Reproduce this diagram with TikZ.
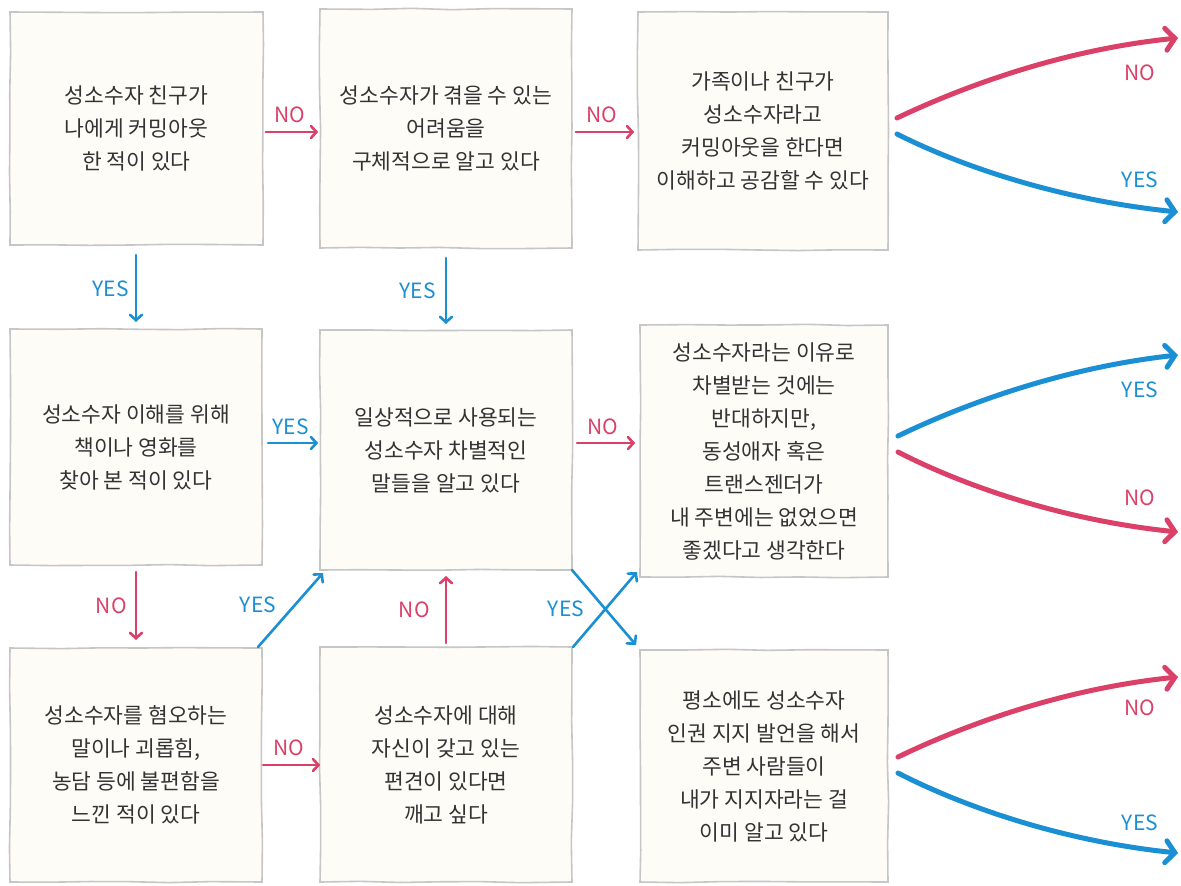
\documentclass[tikz,border=0pt]{standalone}
\usepackage{fontspec}
\setmainfont{Noto Sans CJK KR}
\usetikzlibrary{arrows.meta,decorations.pathmorphing}
\definecolor{nopink}{HTML}{DA4068}
\definecolor{yesblue}{HTML}{1A8FD3}
\definecolor{boxfill}{HTML}{FDFCF6}
\definecolor{boxline}{HTML}{C6C6C6}
\tikzset{
  card/.style={draw=boxline, line width=1.6pt, fill=boxfill, rectangle, align=center,
    inner sep=0pt, text=black!80, font=\fontsize{21.5}{33}\selectfont,
    decorate, decoration={random steps, segment length=40pt, amplitude=0.7pt}},
  noarr/.style={draw=nopink, line width=2.6pt, line cap=round,
    -{Straight Barb[length=5.5pt,width=12pt,line width=2.6pt,line cap=round]}},
  yesarr/.style={draw=yesblue, line width=2.6pt, line cap=round,
    -{Straight Barb[length=5.5pt,width=12pt,line width=2.6pt,line cap=round]}},
  nocurve/.style={draw=nopink, line width=5pt, line cap=round,
    -{Straight Barb[length=9pt,width=22pt,line width=5pt,line cap=round]}},
  yescurve/.style={draw=yesblue, line width=5pt, line cap=round,
    -{Straight Barb[length=9pt,width=22pt,line width=5pt,line cap=round]}},
  nolab/.style={text=nopink, font=\fontsize{21}{22}\selectfont, inner sep=0pt},
  yeslab/.style={text=yesblue, font=\fontsize{21}{22}\selectfont, inner sep=0pt},
}
\pgfmathsetseed{7}
\begin{document}
\begin{tikzpicture}[x=1pt,y=-1pt]
\useasboundingbox (0,0) rectangle (1181,886);
% boxes
\node[card, minimum width=253pt, minimum height=233pt] (A) at (136.5,128.5) {성소수자 친구가\\나에게 커밍아웃\\한 적이 있다};
\node[card, minimum width=252pt, minimum height=239pt] (B) at (446,128.5) {성소수자가 겪을 수 있는\\어려움을\\구체적으로 알고 있다};
\node[card, minimum width=250pt, minimum height=238pt] (C) at (763,131) {가족이나 친구가\\성소수자라고\\커밍아웃을 한다면\\이해하고 공감할 수 있다};
\node[card, minimum width=252pt, minimum height=236pt] (D) at (136,447) {성소수자 이해를 위해\\책이나 영화를\\찾아 본 적이 있다};
\node[card, minimum width=252pt, minimum height=240pt] (E) at (446,450) {일상적으로 사용되는\\성소수자 차별적인\\말들을 알고 있다};
\node[card, minimum width=248pt, minimum height=252pt] (F) at (764,451) {성소수자라는 이유로\\차별받는 것에는\\반대하지만,\\동성애자 혹은\\트랜스젠더가\\내 주변에는 없었으면\\좋겠다고 생각한다};
\node[card, minimum width=252pt, minimum height=234pt] (G) at (136,765) {성소수자를 혐오하는\\말이나 괴롭힘,\\농담 등에 불편함을\\느낀 적이 있다};
\node[card, minimum width=252pt, minimum height=235pt] (H) at (446,764.5) {성소수자에 대해\\자신이 갖고 있는\\편견이 있다면\\깨고 싶다};
\node[card, minimum width=248pt, minimum height=232pt] (I) at (764,766) {평소에도 성소수자\\인권 지지 발언을 해서\\주변 사람들이\\내가 지지자라는 걸\\이미 알고 있다};

% straight connectors
\draw[noarr] ([xshift=2pt]A.east |- 0,132) -- ([xshift=-1pt]B.west |- 0,132) node[nolab, pos=0.45, above=8pt] {NO};
\draw[noarr] ([xshift=3pt]B.east |- 0,132) -- ([xshift=-3pt]C.west |- 0,132) node[nolab, pos=0.45, above=8pt] {NO};
\draw[yesarr] (136,255) -- (136,322) node[yeslab, midway, left=6pt] {YES};
\draw[yesarr] (446,258) -- (446,324) node[yeslab, midway, left=9pt] {YES};
\draw[yesarr] (268,443) -- ([xshift=-1pt]E.west |- 0,443) node[yeslab, pos=0.45, above=7pt] {YES};
\draw[noarr] (577,443) -- ([xshift=-4pt]F.west |- 0,443) node[nolab, pos=0.45, above=7pt] {NO};
\draw[noarr] (136,572) -- (136,640) node[nolab, midway, left=8pt] {NO};
\draw[yesarr] (258,647) -- (323,573);
\node[yeslab] (lyg) at (258,605) {YES};
\draw[noarr] (446,643) -- (446,576) node[nolab, midway, left=15pt] {NO};
\draw[noarr] (263,765) -- ([xshift=1pt]H.west |- 0,765) node[nolab, pos=0.45, above=8pt] {NO};
\draw[yesarr] (573,647) -- (637,572);
\draw[yesarr] (572,570) -- (636,645);
\node[yeslab] (lyx) at (566,609) {YES};

% curved exits
\coordinate (c1) at (1178,38);
\coordinate (c2) at (1178,212);
\coordinate (f1) at (1178,355);
\coordinate (f2) at (1178,532);
\coordinate (i1) at (1178,677);
\coordinate (i2) at (1178,853);
\draw[nocurve] (897,118) .. controls (960,88) and (1060,50) .. (c1);
\draw[yescurve] (897,134) .. controls (960,166) and (1060,200) .. (c2);
\node[nolab] (lc1) at (1140,73) {NO};
\node[yeslab] (lc2) at (1140,180) {YES};
\draw[yescurve] (898,436) .. controls (960,406) and (1060,368) .. (f1);
\draw[nocurve] (898,452) .. controls (960,484) and (1060,520) .. (f2);
\node[yeslab] (lf1) at (1140,390) {YES};
\node[nolab] (lf2) at (1140,498) {NO};
\draw[nocurve] (898,757) .. controls (960,727) and (1060,689) .. (i1);
\draw[yescurve] (898,773) .. controls (960,805) and (1060,841) .. (i2);
\node[nolab] (li1) at (1140,708) {NO};
\node[yeslab] (li2) at (1140,823) {YES};
\end{tikzpicture}
\end{document}
